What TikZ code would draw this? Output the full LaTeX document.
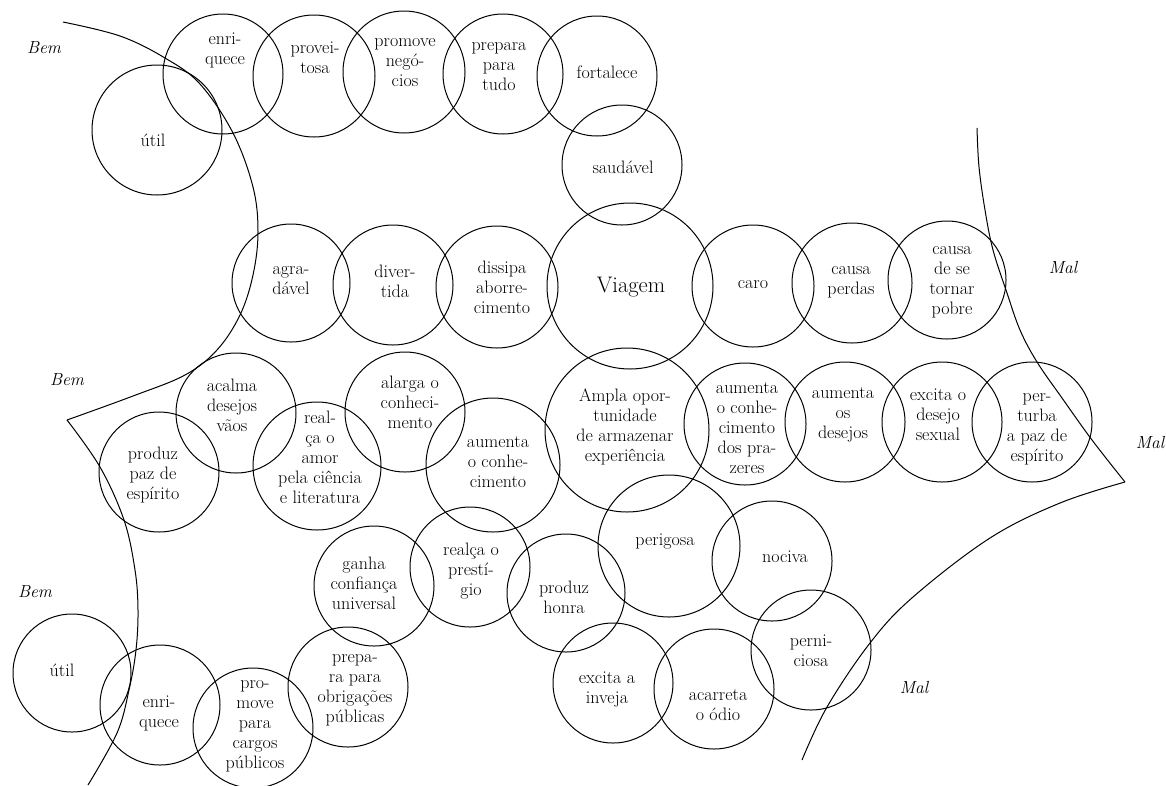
\documentclass[tikz,border=0pt]{standalone}
\usepackage{fontspec}
\begin{document}
\begin{tikzpicture}[x=1pt,y=-1pt,
  bub/.style={draw, circle, line width=1pt, minimum size=120pt, inner sep=0pt},
  txt/.style={align=center, font=\fontsize{18}{20}\selectfont, inner sep=0pt},
  big/.style={align=center, font=\fontsize{22.5}{24}\selectfont, inner sep=0pt},
  zone/.style={font=\fontsize{17.5}{20}\selectfont\itshape, inner sep=0pt},
  border/.style={line width=1pt}]
\useasboundingbox (0,0) rectangle (1166,785);
% top group
\node[bub, minimum size=130pt] (u1) at (157,130) {};
\node[txt] (u1t) at (153,140) {útil};
\node[bub] (e1) at (223,74) {};
\node[txt] (e1t) at (225,50) {enri-\\quece};
\node[bub, minimum size=122pt] (pv) at (314,76) {};
\node[txt] (pvt) at (315,58) {provei-\\tosa};
\node[bub, minimum size=122pt] (pn) at (404,72) {};
\node[txt] (pnt) at (405,63) {promove\\negó-\\cios};
\node[bub] (pt) at (503,74) {};
\node[txt] (ptt) at (499,67) {prepara\\para\\tudo};
\node[bub] (fo) at (597,76) {};
\node[txt] (fot) at (607,72) {fortalece};
\node[bub] (sa) at (622,165) {};
\node[txt] (sat) at (623,167) {saudável};
% middle row
\node[bub, minimum size=118pt] (ag) at (291,283) {};
\node[txt] (agt) at (291,281) {agra-\\dável};
\node[bub] (dv) at (393,285) {};
\node[txt] (dvt) at (395,281) {diver-\\tida};
\node[bub, minimum size=122pt] (di) at (497,287) {};
\node[txt] (dit) at (502,287) {dissipa\\aborre-\\cimento};
\node[bub, minimum size=166pt] (vi) at (630,286) {};
\node[big] (vit) at (631,287) {Viagem};
\node[bub, minimum size=122pt] (ca) at (753,286) {};
\node[txt] (cat) at (753,285) {caro};
\node[bub] (cp) at (852,283) {};
\node[txt] (cpt) at (851,282) {causa\\perdas};
\node[bub, minimum size=118pt] (cb) at (947,280) {};
\node[txt] (cbt) at (952,282) {causa\\de se\\tornar\\pobre};
% third row
\node[bub] (ac) at (236,413) {};
\node[txt] (act) at (232,405) {acalma\\desejos\\vãos};
\node[bub] (pz) at (159,472) {};
\node[txt] (pzt) at (153,475) {produz\\paz de\\espírito};
\node[bub, minimum size=128pt] (ra) at (317,466) {};
\node[txt] (rat) at (320,457) {real-\\ça o\\amor\\pela ciência\\e literatura};
\node[bub] (al) at (405,412) {};
\node[txt] (alt) at (410,402) {alarga o\\conheci-\\mento};
\node[bub, minimum size=134pt] (ak) at (493,465) {};
\node[txt] (akt) at (498,462) {aumenta\\o conhe-\\cimento};
\node[bub, minimum size=164pt] (am) at (627,430) {};
\node[txt] (amt) at (625,427) {Ampla opor-\\tunidade\\de armazenar\\experiência};
\node[bub, minimum size=122pt] (ap) at (745,424) {};
\node[txt] (apt) at (747,428) {aumenta\\o conhe-\\cimento\\dos pra-\\zeres};
\node[bub] (ad) at (845,422) {};
\node[txt] (adt) at (843,415) {aumenta\\os\\desejos};
\node[bub] (es) at (942,422) {};
\node[txt] (est) at (938,415) {excita o\\desejo\\sexual};
\node[bub] (pp) at (1032,422) {};
\node[txt] (ppt) at (1037,429) {per-\\turba\\a paz de\\espírito};
% fourth row
\node[bub] (gc) at (374,586) {};
\node[txt] (gct) at (364,583) {ganha\\confiança\\universal};
\node[bub] (rp) at (470,567) {};
\node[txt] (rpt) at (471,571) {realça o\\prestí-\\gio};
\node[bub, minimum size=118pt] (ph) at (566,593) {};
\node[txt] (pht) at (564,597) {produz\\honra};
\node[bub, minimum size=142pt] (pe) at (669,546) {};
\node[txt] (pet) at (665,542) {perigosa};
\node[bub] (no) at (772,561) {};
\node[txt] (not) at (785,557) {nociva};
\node[bub] (pc) at (811,650) {};
\node[txt] (pct) at (811,651) {perni-\\ciosa};
\node[bub] (ei) at (613,683) {};
\node[txt] (eit) at (607,690) {excita a\\inveja};
\node[bub] (ao) at (714,689) {};
\node[txt] (aot) at (718,705) {acarreta\\o ódio};
% bottom-left group
\node[bub, minimum size=118pt] (u2) at (72,673) {};
\node[txt] (u2t) at (62,670) {útil};
\node[bub] (e2) at (160,705) {};
\node[txt] (e2t) at (159,713) {enri-\\quece};
\node[bub] (pg) at (253,728) {};
\node[txt] (pgt) at (255,726) {pro-\\move\\para\\cargos\\públicos};
\node[bub] (po) at (348,687) {};
\node[txt] (pot) at (355,690) {prepa-\\ra para\\obrigações\\públicas};
% zone labels
\node[zone] (b1) at (44,48) {Bem};
\node[zone] (b2) at (67,380) {Bem};
\node[zone] (b3) at (35,592) {Bem};
\node[zone] (m1) at (1063,268) {Mal};
\node[zone] (m2) at (1150,443) {Mal};
\node[zone] (m3) at (914,688) {Mal};
% boundary curves
\draw[border] plot[smooth, tension=0.6] coordinates {(63,22) (120,36) (165,58) (200,84) (233,133) (253,187) (258,232) (253,275) (240,315) (217,350) (185,375) (133,396) (67,420)};
\draw[border] plot[smooth, tension=0.6] coordinates {(67,420) (100,467) (124,520) (135,570) (138,610) (136,650) (129,690) (117,733) (88,785)};
\draw[border] plot[smooth, tension=0.6] coordinates {(977,128) (979,167) (985,210) (993,250) (1007,293) (1020,330) (1037,362) (1062,398) (1092,440) (1125,482)};
\draw[border] plot[smooth, tension=0.6] coordinates {(1125,482) (1060,503) (990,538) (913,597) (870,643) (827,707) (802,760)};
\end{tikzpicture}
\end{document}
